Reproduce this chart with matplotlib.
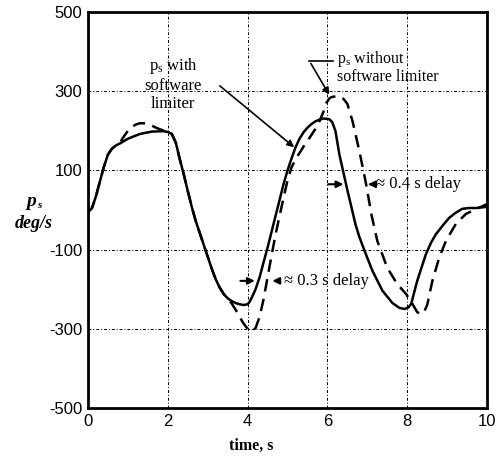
import matplotlib
matplotlib.use("Agg")
import matplotlib.pyplot as plt

plt.rcParams["mathtext.fontset"] = "custom"
plt.rcParams["mathtext.rm"] = "Liberation Serif"
plt.rcParams["mathtext.it"] = "Liberation Serif:italic"

# time histories (t in s, p_s in deg/s)
t_with = [0, 0.1, 0.2, 0.3, 0.4, 0.5, 0.6, 0.7, 0.8, 1.0, 1.3, 1.6, 1.9, 2.0, 2.1,
          2.2, 2.3, 2.4, 2.5, 2.6, 2.7, 2.8, 2.9, 3.0, 3.1, 3.2, 3.3, 3.4, 3.5,
          3.6, 3.7, 3.8, 3.9, 4.0, 4.05, 4.1, 4.2, 4.3, 4.4, 4.5, 4.6, 4.7, 4.8,
          4.9, 5.0, 5.1, 5.2, 5.3, 5.4, 5.5, 5.6, 5.7, 5.8, 5.9, 6.0, 6.05, 6.12,
          6.2, 6.25, 6.3, 6.4, 6.5, 6.6, 6.7, 6.8, 6.93, 7.13, 7.38, 7.63, 7.8,
          7.93, 8.03, 8.1, 8.25, 8.47, 8.6, 8.72, 8.9, 9.05, 9.2, 9.38, 9.55,
          9.72, 10]
p_with = [-5, 5, 35, 73, 110, 140, 155, 163, 168, 180, 192, 198, 199, 197, 192,
          170, 128, 90, 48, 8, -28, -58, -88, -118, -148, -175, -196, -212, -223,
          -230, -235, -238, -240, -238, -232, -222, -200, -170, -132, -95, -55,
          -15, 25, 65, 100, 130, 158, 180, 196, 208, 217, 224, 228, 231, 230, 229,
          222, 200, 170, 140, 95, 50, 8, -35, -68, -103, -154, -204, -235, -247,
          -250, -246, -237, -179, -111, -82, -61, -38, -20, -8, 3, 5, 5, 8]

t_without = [0, 0.1, 0.2, 0.3, 0.4, 0.5, 0.6, 0.7, 0.8, 0.9, 1.0, 1.1, 1.2, 1.3,
             1.4, 1.5, 1.6, 1.7, 1.8, 1.9, 2.0, 2.1, 2.2, 2.3, 2.4, 2.5, 2.6, 2.7,
             2.8, 2.9, 3.0, 3.1, 3.2, 3.3, 3.4, 3.5, 3.6, 3.7, 3.8, 3.9, 4.0, 4.1,
             4.2, 4.3, 4.4, 4.5, 4.6, 4.7, 4.8, 4.9, 5.0, 5.1, 5.22, 5.4, 5.55, 5.7,
             5.8, 5.9, 5.97, 6.05, 6.1, 6.25, 6.4, 6.5, 6.63, 6.8, 6.97, 7.1, 7.25,
             7.5, 7.75, 7.97, 8.13, 8.25, 8.35, 8.42, 8.5, 8.63, 8.8, 8.97, 9.22,
             9.47, 9.72, 10]
p_without = [-5, 5, 35, 73, 110, 140, 155, 163, 170, 186, 200, 210, 216, 219,
             219, 217, 213, 208, 204, 200, 197, 192, 170, 128, 90, 48, 8, -28,
             -58, -88, -118, -148, -175, -196, -212, -223, -236, -252, -270, -287,
             -300, -306, -298, -270, -225, -170, -115, -62, -15, 30, 75, 108, 131,
             160, 182, 205, 224, 248, 270, 282, 285, 288, 281, 268, 224, 149, 65,
             -10, -78, -146, -187, -212, -237, -258, -263, -258, -240, -179, -121,
             -78, -35, -10, 2, 15]

xticks = [0, 2, 4, 6, 8, 10]
yticks = [500, 300, 100, -100, -300, -500]

serif = "Liberation Serif"

fig = plt.figure(figsize=(4.99, 4.58), dpi=100)
ax = fig.add_axes([0.1764, 0.1092, 0.7996, 0.8646])

ax.plot(t_with, p_with, color="black", lw=1.8, solid_joinstyle="round")
ax.plot(t_without, p_without, color="black", lw=1.8, dashes=(5, 3))

ax.set_xlim(0, 10)
ax.set_ylim(-500, 500)
ax.set_xticks(xticks)
ax.set_yticks(yticks)
ax.set_yticklabels([str(v) for v in yticks])
ax.tick_params(length=0, labelsize=12, pad=4)
for lab in ax.get_xticklabels() + ax.get_yticklabels():
    lab.set_family("Liberation Sans")
ax.grid(True, color="black", lw=0.7, linestyle=(0, (3, 2, 1, 2)))
for s in ax.spines.values():
    s.set_linewidth(2.0)

ax.set_xlabel("time, s", family=serif, fontsize=11.5, fontweight="bold")
ax.xaxis.set_label_coords(0.41, -0.075)

# y label
fig.text(0.062, 0.561, "p", family=serif, fontsize=14, fontweight="bold",
         style="italic", ha="center", va="center")
fig.text(0.078, 0.552, "s", family=serif, fontsize=8, fontweight="bold",
         style="italic", ha="center", va="center")
fig.text(0.068, 0.513, "deg/s", family=serif, fontsize=13, fontweight="bold",
         style="italic", ha="center", va="center")

# annotations
ax.text(2.13, 318, "p$_\\mathrm{s}$ with\nsoftware\nlimiter", family=serif,
        fontsize=12, ha="center", va="center", linespacing=1.15)
ax.annotate("", xy=(5.22, 154), xytext=(3.25, 318),
            arrowprops=dict(arrowstyle="-|>", color="black", lw=1.2,
                            mutation_scale=10))
ax.text(6.25, 361, "p$_\\mathrm{s}$ without\nsoftware limiter", family=serif,
        fontsize=11.5, ha="left", va="center", linespacing=0.95)
ax.plot([5.55, 6.15], [376, 376], color="black", lw=1.2)
ax.annotate("", xy=(6.08, 285), xytext=(5.55, 376),
            arrowprops=dict(arrowstyle="-|>", color="black", lw=1.2,
                            mutation_scale=10))

# delay arrows
arrow = dict(arrowstyle="-|>", color="black", lw=1.5, mutation_scale=10)
ax.annotate("", xy=(4.25, -179), xytext=(3.75, -179), arrowprops=arrow)
ax.annotate("", xy=(4.55, -179), xytext=(4.88, -179), arrowprops=arrow)
ax.text(4.9, -179, "\u2248 0.3 s delay", family=serif, fontsize=12,
        ha="left", va="center")
ax.annotate("", xy=(6.47, 65), xytext=(5.95, 65), arrowprops=arrow)
ax.annotate("", xy=(6.95, 65), xytext=(7.2, 65), arrowprops=arrow)
ax.text(7.22, 65, "\u2248 0.4 s delay", family=serif, fontsize=12,
        ha="left", va="center")

fig.savefig("out.png", dpi=100)
